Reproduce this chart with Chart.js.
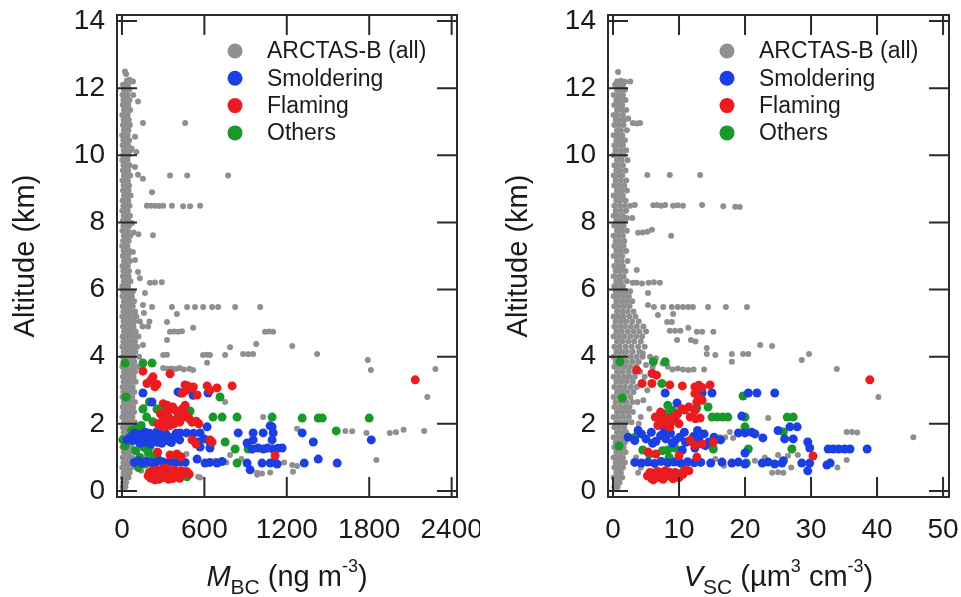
<!DOCTYPE html>
<html>
<head>
<meta charset="utf-8">
<script src="https://cdn.jsdelivr.net/npm/chart.js@4.4.1/dist/chart.umd.min.js"></script>
<style>
  html, body { margin: 0; padding: 0; background: #fff; }
  #wrap { position: relative; width: 961px; height: 597px; }
  .panel { position: absolute; top: 0; height: 597px; }
  #left { left: 0; width: 480px; }
  #right { left: 480px; width: 481px; }
</style>
</head>
<body>
<div id="wrap">
  <div class="panel" id="left"><canvas id="bcChart"></canvas></div>
  <div class="panel" id="right"><canvas id="vscChart"></canvas></div>
</div>
<script>
// ---- labels / ticks ----
const seriesNames = ["ARCTAS-B (all)", "Smoldering", "Flaming", "Others"];
const bcTicks = [0, 600, 1200, 1800, 2400];
const vscTicks = [0, 10, 20, 30, 40, 50];
const altTicks = [0, 2, 4, 6, 8, 10, 12, 14];

// ---- M_BC panel (ng m-3 vs km) ----
// dense column near zero: [altitude, x, x, ...]
const bcColumnRows = [
  [12.10, 8, 27, 44], [11.95, 14, 33, 52], [11.80, 4, 22, 40], [11.65, 11, 30, 55],
  [11.50, 6, 25, 46], [11.35, 15, 35, 60], [11.20, 3, 21, 42], [11.05, 12, 31, 50],
  [10.90, 7, 26, 58], [10.75, 14, 34, 47], [10.60, 2, 23, 41], [10.45, 10, 29, 53],
  [10.30, 5, 24, 44], [10.15, 13, 36, 62], [10.00, 8, 27, 49], [9.85, 3, 22, 40],
  [9.70, 11, 32, 56], [9.55, 6, 25, 45], [9.40, 14, 33, 60], [9.25, 4, 21, 43],
  [9.10, 12, 30, 52], [8.95, 7, 26, 48], [8.80, 15, 35, 63], [8.65, 5, 24, 46],
  [8.50, 10, 31, 55], [8.35, 3, 22, 42], [8.20, 13, 33, 58], [8.05, 6, 27, 47],
  [7.90, 11, 30, 52], [7.75, 4, 23, 44], [7.60, 14, 34, 61], [7.45, 8, 26, 49],
  [7.30, 2, 21, 40], [7.15, 12, 32, 55], [7.00, 6, 25, 46], [6.85, 15, 36, 58],
  [6.70, 4, 22, 43], [6.55, 10, 29, 51], [6.40, 7, 27, 48], [6.25, 13, 34, 62],
  [6.10, 3, 23, 45], [5.95, 9, 30, 55, 80], [5.80, 4, 24, 48, 72], [5.65, 14, 36, 60, 88],
  [5.50, 6, 27, 50, 78], [5.35, 11, 33, 58, 95], [5.20, 3, 25, 47, 70, 105],
  [5.05, 12, 34, 62, 90, 130, 200], [4.90, 7, 28, 52, 84, 150, 190], [4.75, 15, 40, 66, 100],
  [4.60, 5, 26, 54, 82, 120], [4.45, 10, 33, 60, 95], [4.30, 4, 27, 50, 78, 110],
  [4.15, 13, 38, 64, 98], [4.00, 6, 29, 56, 85, 125], [3.85, 11, 35, 60, 90],
  [3.70, 3, 24, 52, 80, 115], [3.55, 14, 37, 63, 95], [3.40, 7, 30, 55, 85],
  [3.25, 12, 36, 62, 100], [3.10, 5, 27, 52, 78], [2.95, 10, 33, 58, 90],
  [2.80, 4, 26, 50, 75], [2.65, 13, 37, 64, 95], [2.50, 6, 29, 54, 82],
  [2.35, 11, 34, 60, 88], [2.20, 3, 25, 50, 76], [2.05, 14, 38, 62, 92],
  [1.90, 7, 30, 55, 80], [1.75, 12, 35, 60], [1.60, 5, 27, 50, 72], [1.45, 10, 32, 56],
  [1.30, 4, 26, 48, 70], [1.15, 13, 36, 58], [1.00, 6, 28, 50, 75], [0.85, 11, 33, 55],
  [0.70, 3, 25, 47, 68], [0.55, 12, 34, 56], [0.40, 6, 27, 48], [0.25, 10, 30], [0.12, 5, 25]
];
const bcAllScatter = [
  [22,12.5],[30,12.42],[36,12.22],[55,12.25],[80,12.2],[82,11.8],[117,11.6],[153,10.96],[460,10.96],
  [95,10.55],[70,10.2],[105,10.1],[95,9.65],[117,9.42],[153,9.3],[350,9.4],[475,9.4],[773,9.4],
  [219,8.9],[182,8.5],[210,8.5],[240,8.5],[270,8.49],[300,8.5],[364,8.5],[445,8.48],[496,8.48],[569,8.5],
  [73,7.98],[85,7.7],[120,7.65],[226,7.62],[80,7.12],[95,6.88],[117,6.52],[130,6.34],
  [204,6.2],[240,6.21],[290,6.22],[168,5.9],[153,5.54],[219,5.48],[364,5.48],[474,5.48],[532,5.48],
  [591,5.48],[656,5.48],[700,5.48],[824,5.48],[1006,5.48],[160,5.3],[400,5.27],[328,5.03],
  [350,4.74],[380,4.75],[410,4.74],[437,4.76],[518,4.86],[1042,4.74],[1070,4.75],[1100,4.74],
  [328,4.5],[977,4.38],[1240,4.32],[787,4.28],[153,4.35],[300,4.05],[328,4.06],[590,4.05],
  [620,4.06],[641,4.05],[751,4.05],[882,4.08],[920,4.07],[955,4.08],[1421,4.08],[620,3.82],
  [1790,3.9],[1812,3.6],[2282,3.63],[2223,2.8],[300,3.66],[330,3.64],[360,3.65],[390,3.63],
  [420,3.66],[450,3.62],[490,3.64],[518,3.6],[751,2.65],[1028,2.2],[1420,2.17],[1626,1.79],
  [1676,1.78],[1780,1.73],[1950,1.73],[1995,1.75],[2050,1.82],[2200,1.79],[1852,0.92],
  [1240,0.77],[1245,0.57],[1275,0.74],[984,0.54],[1020,0.52],[1079,0.55],[787,1.07],
  [554,0.42],[569,0.4],[984,0.48],[1275,1.85],[160,2.5],[180,1.0],[140,0.6],[200,0.55],
  [250,1.2],[680,0.9],[760,0.85],[870,0.95],[1180,0.85],[470,1.1]
];
const bcSmoldering = [
  [153,2.92],[219,2.65],[408,2.95],[430,2.92],[518,2.85],[627,2.92],[36,1.52],
  [60,1.6],[80,1.5],[100,1.65],[120,1.55],[140,1.7],[160,1.45],[180,1.6],[200,1.72],[220,1.5],
  [240,1.62],[260,1.45],[280,1.68],[300,1.55],[320,1.7],[345,1.48],[370,1.6],[395,1.72],[420,1.52],
  [90,1.72],[130,1.42],[170,1.75],[210,1.4],[250,1.75],[290,1.42],[330,1.6],[360,1.44],
  [423,1.73],[470,1.73],[520,1.72],[569,1.73],[620,1.91],[554,1.46],[641,1.46],[600,1.55],
  [846,1.73],[911,1.43],[955,1.73],[1028,1.73],[1093,1.91],[1079,1.94],[1101,1.73],[1093,1.52],[955,1.52],
  [948,1.25],[990,1.28],[1030,1.25],[1060,1.28],[1100,1.25],[1135,1.27],[1166,1.28],[569,1.31],[641,1.28],
  [90,0.85],[120,0.9],[150,0.83],[180,0.88],[210,0.85],[240,0.82],[270,0.9],[300,0.86],[330,0.83],
  [360,0.88],[390,0.84],[420,0.87],[460,0.85],[547,0.95],[605,0.83],[640,0.85],[692,0.83],[729,0.88],
  [911,0.83],[933,0.63],[1020,0.83],[1079,0.83],[1110,0.86],[1130,0.8],
  [1312,1.73],[1393,1.46],[1429,0.95],[1327,0.83],[1567,0.83],[1815,1.52]
];
const bcFlaming = [
  [153,3.57],[350,3.49],[226,3.4],[182,3.2],[255,3.18],[210,3.3],[240,3.1],[459,3.16],[510,3.07],
  [547,2.86],[620,3.13],[692,3.07],[802,3.13],[440,2.92],[470,3.0],[520,3.1],[480,3.13],[640,3.0],
  [300,2.6],[330,2.55],[350,2.45],[370,2.5],[390,2.4],[410,2.3],[430,2.35],[450,2.2],[470,2.25],
  [490,2.15],[510,2.05],[540,2.08],[560,2.0],[280,2.3],[300,2.15],[320,2.05],[340,2.2],[360,2.1],
  [380,2.0],[400,2.15],[420,2.05],[260,2.0],[285,1.95],[310,1.9],[350,1.95],[440,2.45],[460,2.55],[330,2.35],
  [641,1.52],[510,1.52],[656,1.46],[540,1.4],[350,1.07],[400,1.1],[430,1.02],[260,1.15],[1115,1.05],[2135,3.31],
  [190,0.45],[210,0.38],[230,0.5],[250,0.42],[270,0.35],[290,0.48],[310,0.4],[330,0.55],[350,0.43],
  [370,0.37],[390,0.5],[410,0.45],[430,0.6],[450,0.52],[470,0.58],[220,0.6],[260,0.62],[300,0.66],
  [340,0.35],[380,0.62],[420,0.38],[200,0.55],[240,0.33],[280,0.55],[320,0.68],[360,0.6],[490,0.5]
];
const bcOthers = [
  [22,3.81],[153,3.81],[219,3.81],[29,2.8],[153,2.44],[255,2.44],[496,2.38],[714,2.8],[663,2.2],
  [729,2.2],[838,2.2],[1093,2.2],[1312,2.17],[1429,2.17],[1458,2.17],[1800,2.17],[1560,1.79],
  [7,1.52],[80,1.61],[22,1.34],[226,2.06],[200,1.31],[255,1.01],[751,1.46],[824,1.25],[919,1.25],
  [838,0.83],[423,0.42],[474,0.42],[100,1.2],[130,1.0],[160,1.3],[190,1.15],[120,0.7],[170,0.8],
  [230,1.05],[100,1.85],[140,1.95],[70,1.8],[300,0.5],[450,0.45],[180,2.2],[200,2.65],[313,2.41],[474,2.35]
];

// ---- V_SC panel (um3 cm-3 vs km) ----
const vscColumnRows = [
  [12.10, 0.3, 0.9, 1.5], [11.95, 0.6, 1.2, 1.8], [11.80, 0.1, 0.7, 1.3], [11.65, 0.5, 1.1, 1.9],
  [11.50, 0.2, 0.8, 1.4], [11.35, 0.6, 1.3, 2.0], [11.20, 0.1, 0.7, 1.5], [11.05, 0.4, 1.0, 1.7],
  [10.90, 0.2, 0.9, 1.6], [10.75, 0.6, 1.2, 2.1], [10.60, 0.1, 0.8, 1.4], [10.45, 0.5, 1.1, 1.8],
  [10.30, 0.2, 0.7, 1.5], [10.15, 0.4, 1.2, 2.0], [10.00, 0.1, 0.9, 1.6], [9.85, 0.6, 1.3, 2.2],
  [9.70, 0.2, 0.8, 1.5], [9.55, 0.5, 1.1, 1.9], [9.40, 0.1, 0.7, 1.4], [9.25, 0.4, 1.2, 2.0],
  [9.10, 0.2, 0.9, 1.7], [8.95, 0.6, 1.3, 2.1], [8.80, 0.1, 0.8, 1.5], [8.65, 0.5, 1.1, 1.9],
  [8.50, 0.2, 1.0, 1.8, 2.6], [8.35, 0.4, 1.2, 2.0], [8.20, 0.1, 0.7, 1.5], [8.05, 0.5, 1.1, 1.8],
  [7.90, 0.2, 0.9, 1.6], [7.75, 0.6, 1.3, 2.1], [7.60, 0.1, 0.8, 1.5], [7.45, 0.4, 1.0, 1.7],
  [7.30, 0.2, 0.9, 1.6], [7.15, 0.5, 1.2, 2.0], [7.00, 0.1, 0.7, 1.4], [6.85, 0.6, 1.3, 2.2],
  [6.70, 0.2, 0.8, 1.5], [6.55, 0.4, 1.1, 1.9], [6.40, 0.1, 0.9, 1.6], [6.25, 0.5, 1.2, 2.1],
  [6.10, 0.2, 0.8, 1.5], [5.95, 0.4, 1.1, 1.9, 2.6], [5.80, 0.1, 0.8, 1.6, 2.4],
  [5.65, 0.5, 1.3, 2.1, 2.9], [5.50, 0.2, 0.9, 1.7, 2.5], [5.35, 0.6, 1.4, 2.2, 3.1],
  [5.20, 0.1, 0.8, 1.6, 2.5, 3.4], [5.05, 0.4, 1.2, 2.0, 2.9, 3.9], [4.90, 0.2, 1.0, 1.8, 2.7, 3.6, 4.6],
  [4.75, 0.5, 1.3, 2.2, 3.1, 4.0, 5.0], [4.60, 0.1, 0.9, 1.7, 2.6, 3.5, 4.4], [4.45, 0.6, 1.4, 2.3, 3.2, 4.2],
  [4.30, 0.2, 1.0, 1.9, 2.8, 3.8, 4.8], [4.15, 0.5, 1.3, 2.1, 3.0, 4.0], [4.00, 0.1, 0.9, 1.8, 2.7, 3.6, 4.5],
  [3.85, 0.4, 1.2, 2.1, 3.0, 3.9], [3.70, 0.2, 1.0, 1.8, 2.6, 3.5], [3.55, 0.6, 1.4, 2.3, 3.2, 4.1],
  [3.40, 0.1, 0.9, 1.7, 2.5, 3.3], [3.25, 0.5, 1.3, 2.1, 3.0], [3.10, 0.2, 1.0, 1.8, 2.7, 3.6],
  [2.95, 0.6, 1.4, 2.2, 3.1], [2.80, 0.1, 0.9, 1.7, 2.6], [2.65, 0.4, 1.2, 2.0, 2.9, 3.7],
  [2.50, 0.2, 1.0, 1.8, 2.5], [2.35, 0.6, 1.4, 2.2, 3.0], [2.20, 0.1, 0.8, 1.6, 2.4],
  [2.05, 0.5, 1.2, 2.0, 2.8], [1.90, 0.2, 0.9, 1.7], [1.75, 0.6, 1.3, 2.0], [1.60, 0.1, 0.8, 1.5, 2.2],
  [1.45, 0.4, 1.1, 1.8], [1.30, 0.2, 0.9, 1.6], [1.15, 0.5, 1.2, 1.9], [1.00, 0.1, 0.8, 1.5],
  [0.85, 0.4, 1.1, 1.8], [0.70, 0.2, 0.9, 1.5], [0.55, 0.5, 1.2], [0.40, 0.1, 0.8, 1.4],
  [0.25, 0.4, 1.0], [0.12, 0.2, 0.7]
];
const vscAllScatter = [
  [0.76,12.48],[0.6,12.2],[1.2,12.22],[1.8,12.19],[2.6,12.2],[1.5,11.8],[2.3,11.1],[3.0,10.96],
  [3.6,10.95],[4.1,10.96],[5.2,9.41],[8.6,9.41],[13.2,9.41],[3.3,8.52],[6.1,8.51],[6.7,8.52],
  [7.3,8.5],[7.9,8.52],[9.1,8.5],[9.8,8.51],[10.6,8.5],[13.5,8.52],[16.7,8.48],[18.5,8.47],[19.2,8.46],
  [2.1,8.13],[2.9,8.13],[3.8,7.69],[4.5,7.7],[5.2,7.72],[5.9,7.78],[8.8,7.6],[3.6,6.58],[3.0,6.2],
  [3.6,6.2],[4.4,6.18],[5.4,6.2],[6.2,6.22],[7.1,6.2],[5.3,5.9],[5.3,5.54],[6.2,5.48],[7.6,5.48],
  [8.9,5.48],[9.8,5.48],[10.6,5.48],[11.4,5.48],[12.1,5.48],[14.4,5.48],[17.1,5.48],[20.3,5.48],
  [6.8,5.24],[9.1,5.27],[8.2,5.03],[8.9,5.03],[8.6,4.77],[9.4,4.77],[10.2,4.77],[11.4,4.86],
  [12.7,4.74],[13.5,4.74],[15.2,4.74],[9.7,4.5],[14.2,4.26],[22.3,4.35],[24.1,4.32],[14.2,4.08],
  [18,4.08],[19.7,4.08],[20.5,4.08],[28.6,3.9],[29.7,4.08],[18,3.85],[33.9,3.63],[40.2,2.8],
  [45.5,1.6],[35.4,1.76],[36.2,1.76],[37,1.74],[35.4,0.92],[34,0.7],[24.1,0.54],[25,0.56],
  [25.8,0.54],[23.5,2.17],[16.2,1.6],[17,1.6],[18.2,1.58],[17.7,1.76],[25,1.07],[26.5,1.05],[28,1.07],
  [4.5,4.1],[5.6,4.0],[6.5,3.95],[7.5,3.8],[8.3,3.7],[9.0,3.62],[9.8,3.65],[10.6,3.62],[11.4,3.6],
  [12.2,3.62],[13.8,3.62],[5.0,3.75],[6.0,3.68],[4.8,3.4],[5.2,3.0],[4.6,2.7],[5.5,2.45],[4.2,2.2],
  [3.9,2.0],[15.5,4.05],[11.8,4.5],[12.5,4.45],[3.8,0.54],[4.2,0.7],[3.5,1.0],[15.5,0.95],[16.8,0.75],
  [21.5,0.9],[23,1.0],[27,0.7]
];
const vscSmoldering = [
  [7.9,2.92],[9.7,2.62],[13.5,2.92],[15,2.92],[20.5,2.92],[21.8,2.92],[24.5,2.92],[19.5,2.23],
  [2.3,1.6],[3.3,1.5],[4.3,1.7],[5.0,1.55],[5.8,1.75],[6.5,1.48],[7.2,1.65],[8.0,1.55],[8.7,1.72],
  [9.4,1.5],[10.1,1.6],[10.8,1.75],[11.5,1.48],[12.2,1.62],[13.0,1.55],[13.8,1.7],[14.5,1.45],
  [15.3,1.6],[16.3,1.52],[3.8,1.8],[6.0,1.42],[7.8,1.78],[9.0,1.42],[11.0,1.45],[12.8,1.8],
  [19,1.73],[20,1.73],[21,1.75],[21.5,1.7],[22.7,1.58],[25,1.8],[26,1.55],[27.3,1.55],[26.8,1.91],
  [27.9,1.91],[29.5,1.46],[29.8,1.28],[32.6,1.25],[33.4,1.25],[34.2,1.25],[35.1,1.25],[35.9,1.25],
  [38.5,1.25],[20,1.13],[12.4,1.28],[10.5,1.22],[14,1.35],
  [3.3,0.85],[4.3,0.83],[5.3,0.86],[6.3,0.82],[7.3,0.88],[8.3,0.84],[9.3,0.86],[10.3,0.82],
  [11.3,0.87],[12.3,0.84],[13.3,0.85],[14.8,0.83],[16.5,0.86],[18,0.83],[19,0.86],[20,0.8],
  [22.6,0.83],[23.5,0.86],[24.5,0.8],[25.6,0.83],[25.8,0.9],[28.6,0.83],[29.8,0.83],[29.5,0.6],
  [32.4,0.77],[32.9,0.83]
];
const vscFlaming = [
  [3.6,3.6],[5.9,3.5],[6.6,3.45],[4.4,3.2],[5.9,3.2],[8.6,3.16],[10.5,3.13],[12.4,3.1],[13.0,3.15],
  [13.5,3.08],[14.7,3.16],[12.4,2.9],[13.0,2.8],[13.5,2.7],[12.7,2.65],[11.5,2.5],[10.9,2.41],
  [12.4,2.4],[11.7,2.2],[12.5,2.15],[13.2,2.17],[6.4,2.2],[7.0,2.1],[7.6,2.0],[8.2,1.95],[8.8,2.05],
  [9.4,2.15],[6.8,1.95],[7.4,2.25],[8.0,2.15],[8.6,1.9],[9.0,2.2],[7.2,2.35],[9.8,2.3],[10.4,2.45],
  [10.0,2.0],[11.7,1.5],[13.5,1.4],[15.2,1.45],[12.4,1.37],[5.3,1.16],[6.5,1.1],[12.7,1.01],
  [10.0,1.05],[30.3,1.04],[38.9,3.31],
  [5.2,0.45],[5.8,0.38],[6.4,0.5],[7.0,0.4],[7.6,0.35],[8.2,0.48],[8.8,0.42],[9.4,0.55],[10.0,0.4],
  [10.6,0.5],[5.6,0.55],[6.8,0.58],[7.9,0.6],[9.1,0.36],[10.9,0.62],[6.1,0.33],[8.5,0.56],[9.7,0.45],[11.5,0.6]
];
const vscOthers = [
  [1.06,3.85],[6.1,3.85],[7.9,3.85],[1.4,2.77],[7.4,3.2],[7.9,2.3],[14.4,2.5],[12.7,2.47],[15,2.2],
  [15.8,2.2],[16.6,2.2],[17.4,2.2],[20,2.2],[26.4,2.2],[27.3,2.2],[19.7,2.83],[3.9,1.73],[0.9,1.34],
  [4.5,1.22],[8.3,1.22],[9.4,1.28],[20,1.91],[20.5,1.25],[27.1,1.25],[20.2,0.83],[6.4,0.54],
  [15.2,1.25],[25.8,1.76],[5.5,1.1],[7.5,1.2],[8.5,1.0],[10.5,0.55],[9.0,2.4],[3.3,1.6],[8.3,2.55]
];

// ---- helpers ----
const FONT = "Arial, 'Liberation Sans', Helvetica, sans-serif";
const GREY = "#8f8f8f", BLUE = "#1b3fe3", RED = "#ea1c1f", GREEN = "#18992a";

function rowsToPoints(rows) {
  const pts = [];
  rows.forEach(r => { for (let i = 1; i < r.length; i++) pts.push({ x: r[i], y: r[0] }); });
  return pts;
}
const toPts = arr => arr.map(p => ({ x: p[0], y: p[1] }));

function makeDatasets(column, scatter, smold, flame, others) {
  return [
    { label: seriesNames[0], data: rowsToPoints(column).concat(toPts(scatter)), backgroundColor: GREY, pointRadius: 3, borderWidth: 0, order: 4 },
    { label: seriesNames[3], data: toPts(others), backgroundColor: GREEN, pointRadius: 4.5, borderWidth: 0, order: 3 },
    { label: seriesNames[1], data: toPts(smold), backgroundColor: BLUE, pointRadius: 4.5, borderWidth: 0, order: 2 },
    { label: seriesNames[2], data: toPts(flame), backgroundColor: RED, pointRadius: 4.5, borderWidth: 0, order: 1 }
  ];
}

// frame, inward ticks, legend box and rich x-title
const decorPlugin = {
  id: "decor",
  afterDatasetsDraw(chart, args, opts) {
    const { ctx, chartArea: a, scales: { x, y } } = chart;
    ctx.save();
    ctx.strokeStyle = "#2a2a2a";
    ctx.lineWidth = 2;
    ctx.strokeRect(a.left, a.top, a.right - a.left, a.bottom - a.top);
    ctx.beginPath();
    x.ticks.forEach(t => {
      const px = x.getPixelForValue(t.value);
      ctx.moveTo(px, a.bottom); ctx.lineTo(px, a.bottom - 20);
      ctx.moveTo(px, a.top); ctx.lineTo(px, a.top + 20);
    });
    y.ticks.forEach(t => {
      const py = y.getPixelForValue(t.value);
      ctx.moveTo(a.left, py); ctx.lineTo(a.left + 20, py);
      ctx.moveTo(a.right, py); ctx.lineTo(a.right - 20, py);
    });
    ctx.stroke();

    // legend
    const legendOrder = [0, 2, 3, 1];
    const mx = a.right - 222;
    ctx.textBaseline = "middle";
    ctx.textAlign = "left";
    ctx.font = "23px " + FONT;
    legendOrder.forEach((di, i) => {
      const ds = chart.data.datasets[di];
      const ly = a.top + 36 + i * 27.3;
      ctx.fillStyle = ds.backgroundColor;
      ctx.beginPath();
      ctx.arc(mx, ly, 7.5, 0, Math.PI * 2);
      ctx.fill();
      ctx.fillStyle = "#1a1a1a";
      ctx.fillText(ds.label, mx + 32, ly + 1);
    });

    // x title with sub/superscripts
    const segs = opts.title || [];
    const fontFor = s => (s.italic ? "italic " : "") + (s.sub ? 21 : s.sup ? 18 : 29) + "px " + FONT;
    let total = 0;
    segs.forEach(s => { ctx.font = fontFor(s); total += ctx.measureText(s.t).width; });
    let tx = (a.left + a.right) / 2 - total / 2;
    const base = 586;
    ctx.textBaseline = "alphabetic";
    ctx.fillStyle = "#1a1a1a";
    segs.forEach(s => {
      ctx.font = fontFor(s);
      const dy = s.sub ? 8 : s.sup ? -14 : 0;
      ctx.fillText(s.t, tx, base + dy);
      tx += ctx.measureText(s.t).width;
    });
    ctx.restore();
  }
};

function panelOptions(p) {
  return {
    responsive: true,
    maintainAspectRatio: false,
    animation: false,
    layout: { padding: { left: 0, top: 15, right: p.padRight, bottom: 0 } },
    plugins: {
      legend: { display: false },
      tooltip: { enabled: false },
      decor: { title: p.title }
    },
    scales: {
      x: {
        type: "linear", position: "bottom", min: p.xMin, max: p.xMax,
        grid: { display: false, drawTicks: false, tickLength: 0 }, border: { display: false },
        afterBuildTicks: s => { s.ticks = p.xTicks.map(v => ({ value: v })); },
        afterFit: s => { s.height = 100; s.paddingLeft = 0; s.paddingRight = 0; },
        ticks: { color: "#1a1a1a", font: { family: FONT, size: 28 }, padding: 16, maxRotation: 0, autoSkip: false, callback: v => String(v) }
      },
      y: {
        type: "linear", min: -0.18, max: 14.18,
        grid: { display: false, drawTicks: false, tickLength: 0 }, border: { display: false },
        afterBuildTicks: s => { s.ticks = altTicks.map(v => ({ value: v })); },
        afterFit: s => { s.width = p.axisWidth; s.paddingTop = 0; s.paddingBottom = 0; },
        ticks: { color: "#1a1a1a", font: { family: FONT, size: 28 }, padding: 12, autoSkip: false, callback: v => String(v) },
        title: { display: true, text: "Altitude (km)", color: "#1a1a1a", font: { family: FONT, size: 29 }, padding: { top: p.titlePad, bottom: 0 } }
      }
    }
  };
}

new Chart(document.getElementById("bcChart"), {
  type: "scatter",
  data: { datasets: makeDatasets(bcColumnRows, bcAllScatter, bcSmoldering, bcFlaming, bcOthers) },
  options: panelOptions({
    xMin: -36, xMax: 2439, xTicks: bcTicks, padRight: 23, axisWidth: 117, titlePad: 9,
    title: [{ t: "M", italic: true }, { t: "BC", sub: true }, { t: " (ng m" }, { t: "-3", sup: true }, { t: ")" }]
  }),
  plugins: [decorPlugin]
});

new Chart(document.getElementById("vscChart"), {
  type: "scatter",
  data: { datasets: makeDatasets(vscColumnRows, vscAllScatter, vscSmoldering, vscFlaming, vscOthers) },
  options: panelOptions({
    xMin: -0.76, xMax: 50.9, xTicks: vscTicks, padRight: 12, axisWidth: 128, titlePad: 22,
    title: [{ t: "V", italic: true }, { t: "SC", sub: true }, { t: " (\u00b5m" }, { t: "3", sup: true }, { t: " cm" }, { t: "-3", sup: true }, { t: ")" }]
  }),
  plugins: [decorPlugin]
});
</script>
</body>
</html>
